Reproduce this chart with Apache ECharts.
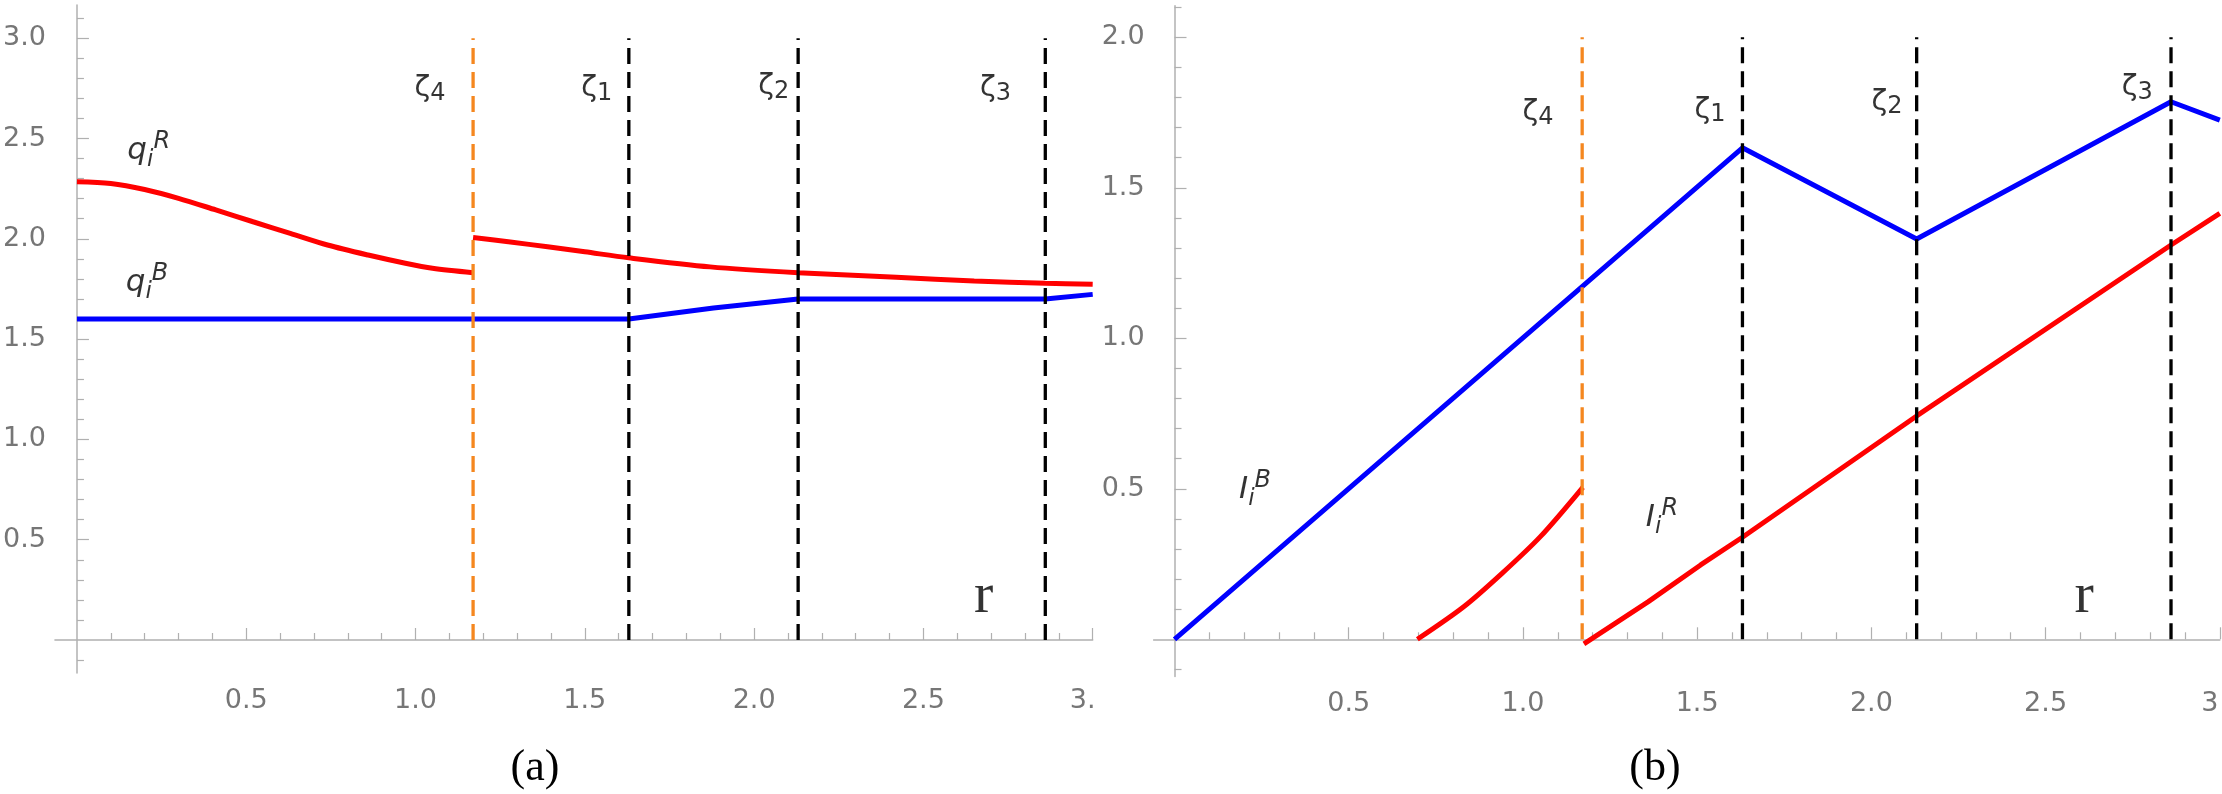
<!DOCTYPE html>
<html><head><meta charset="utf-8">
<script src="https://cdn.jsdelivr.net/npm/echarts@6/dist/echarts.min.js"></script>
<style>html,body{margin:0;padding:0;background:#fff}#c{width:2222px;height:794px}</style>
</head><body><div id="c"></div>
<script>
// ---------------- data ----------------
// vertical reference lines (r values)
const zetaBlack = [1.63, 2.13, 2.86];   // ζ1, ζ2, ζ3
const zeta4 = 1.17;                      // ζ4

// panel (a): q_i^R (two pieces) and q_i^B
const qR1_r = [0, 0.10, 0.20, 0.30, 0.41, 0.52, 0.63, 0.74, 0.86, 0.97, 1.05, 1.17];
const qR1_v = [2.285, 2.276, 2.246, 2.202, 2.144, 2.085, 2.027, 1.969, 1.919, 1.878, 1.853, 1.831];
const qR2_r = [1.17, 1.28, 1.39, 1.50, 1.63, 1.87, 2.13, 2.42, 2.65, 2.86, 3.0];
const qR2_v = [2.007, 1.984, 1.960, 1.935, 1.905, 1.860, 1.831, 1.808, 1.790, 1.778, 1.773];
const qB_r = [0, 1.63, 1.88, 2.13, 2.86, 3.0];
const qB_v = [1.6, 1.6, 1.655, 1.7, 1.7, 1.723];

// panel (b): I_i^B and I_i^R (two pieces)
const IB_r = [0, 1.63, 2.13, 2.86, 3.0];
const IB_v = [0, 1.633, 1.33, 1.786, 1.725];
const IR1_r = [0.697, 0.83, 0.94, 1.05, 1.172];
const IR1_v = [0, 0.108, 0.219, 0.341, 0.505];
const IR2_r = [1.175, 1.36, 1.51, 1.63, 2.13, 2.86, 3.0];
const IR2_v = [-0.015, 0.125, 0.247, 0.339, 0.742, 1.31, 1.415];

// tick labels
const xTickVals = [0.5, 1.0, 1.5, 2.0, 2.5, 3.0];
const yTickValsA = [0.5, 1.0, 1.5, 2.0, 2.5, 3.0];
const yTickValsB = [0.5, 1.0, 1.5, 2.0];

// annotation anchors (data units)
const zetaLabelA = [[1.043, 2.75], [1.535, 2.75], [2.058, 2.76], [2.713, 2.75]];
const zetaLabelB = [[1.043, 1.749], [1.537, 1.758], [2.045, 1.785], [2.763, 1.832]];
const zetaLabelSubs = ['4', '1', '2', '3'];
const qRLabel = [0.212, 2.44];
const qBLabel = [0.207, 1.78];
const IBLabel = [0.231, 0.496];
const IRLabel = [1.399, 0.403];
const rLabelA = [2.678, 0.214];
const rLabelB = [2.611, 0.140];

// ---------------- helpers ----------------
const zip = (a, b) => a.map((v, i) => [v, b[i]]);
function minorList(lo, hi) {
  const out = [];
  for (let k = Math.round(lo * 10); k <= Math.round(hi * 10); k++) {
    if (k % 5 !== 0) out.push(+(k / 10).toFixed(1));
  }
  return out;
}

const axisColor = '#b0b0b0';
const labelColor = '#767676';
const sans = 'DejaVu Sans';
const tickFont = 27;

const rich = {
  z:   {fontFamily: sans, fontSize: 29, lineHeight: 34, verticalAlign: 'middle', color: '#000'},
  zs:  {fontFamily: sans, fontSize: 24, lineHeight: 24, verticalAlign: 'bottom', color: '#000'},
  q:   {fontFamily: sans, fontStyle: 'italic', fontSize: 31, lineHeight: 42, verticalAlign: 'middle', color: '#000'},
  I:   {fontFamily: sans, fontStyle: 'italic', fontSize: 31, lineHeight: 42, verticalAlign: 'middle', color: '#000'},
  sub: {fontFamily: sans, fontStyle: 'italic', fontSize: 23, lineHeight: 22, verticalAlign: 'bottom', color: '#000'},
  sup: {fontFamily: sans, fontStyle: 'italic', fontSize: 24, lineHeight: 23, verticalAlign: 'top', color: '#000'},
  r:   {fontFamily: 'Liberation Serif', fontSize: 58, color: '#000'}
};

function xAxes(grid, min, yIdx, lastFmt) {
  const main = {
    type: 'value', gridIndex: grid, min: min, max: 3.0, position: 'bottom',
    axisLine: {show: true, onZero: true, onZeroAxisIndex: yIdx, lineStyle: {color: axisColor, width: 1.5}},
    axisTick: {show: true, inside: true, length: 12, customValues: xTickVals, lineStyle: {color: axisColor, width: 1.2}},
    axisLabel: {
      show: true, customValues: xTickVals, margin: 14, color: labelColor, fontFamily: sans, fontSize: tickFont,
      formatter: v => (Math.abs(v - 3) < 1e-9 ? lastFmt : v.toFixed(1)),
      rich: {c: {color: labelColor, fontFamily: sans, fontSize: tickFont, padding: [0, 20, 0, 0]}}
    },
    splitLine: {show: false}
  };
  const minor = {
    type: 'value', gridIndex: grid, min: min, max: 3.0, position: 'bottom',
    axisLine: {show: false, onZero: true, onZeroAxisIndex: yIdx},
    axisTick: {show: true, inside: true, length: 7, customValues: minorList(0.1, 2.9), lineStyle: {color: axisColor, width: 1.2}},
    axisLabel: {show: false},
    splitLine: {show: false}
  };
  return [main, minor];
}
function yAxes(grid, min, max, majors, minorHi, xIdx) {
  const main = {
    type: 'value', gridIndex: grid, min: min, max: max, position: 'left',
    axisLine: {show: true, onZero: true, onZeroAxisIndex: xIdx, lineStyle: {color: axisColor, width: 1.5}},
    axisTick: {show: true, inside: true, length: 12, customValues: majors, lineStyle: {color: axisColor, width: 1.2}},
    axisLabel: {show: true, customValues: majors, margin: 9, color: labelColor, fontFamily: sans, fontSize: tickFont,
      formatter: v => v.toFixed(1)},
    splitLine: {show: false}
  };
  const minor = {
    type: 'value', gridIndex: grid, min: min, max: max, position: 'left',
    axisLine: {show: false, onZero: true, onZeroAxisIndex: xIdx},
    axisTick: {show: true, inside: true, length: 7, customValues: minorList(-0.1, minorHi), lineStyle: {color: axisColor, width: 1.2}},
    axisLabel: {show: false},
    splitLine: {show: false}
  };
  return [main, minor];
}

function curve(data, color, xi, yi, smooth) {
  return {type: 'line', xAxisIndex: xi, yAxisIndex: yi, data: data, showSymbol: false, symbol: 'none',
    smooth: smooth ? 0.3 : false, silent: true,
    lineStyle: {color: color, width: 5}, z: 3};
}
function vline(r, top, color, xi, yi) {
  return {type: 'line', xAxisIndex: xi, yAxisIndex: yi, data: [[r, 0], [r, top]], showSymbol: false, symbol: 'none',
    silent: true, lineStyle: {color: color, width: 3.3, type: [16, 8]}, z: 4};
}
function labels(items, xi, yi) {
  return {type: 'scatter', xAxisIndex: xi, yAxisIndex: yi, symbolSize: 1, silent: true, z: 5,
    itemStyle: {color: 'rgba(0,0,0,0)'},
    data: items.map(it => ({value: it.p, label: {formatter: it.t}})),
    label: {show: true, position: 'inside', color: '#000', rich: rich}};
}

const zetaItems = (anchors) => anchors.map((p, i) => ({p: p, t: '{z|ζ}{zs|' + zetaLabelSubs[i] + '}'}));

const series = [
  // panel (a)
  curve(zip(qR1_r, qR1_v), '#ff0000', 0, 0, true),
  curve(zip(qR2_r, qR2_v), '#ff0000', 0, 0, true),
  curve(zip(qB_r, qB_v), '#0000ff', 0, 0, false),
  vline(zeta4, 3.0, '#f5871f', 0, 0),
  ...zetaBlack.map(z => vline(z, 3.0, '#000', 0, 0)),
  labels([
    ...zetaItems(zetaLabelA),
    {p: qRLabel, t: '{q|q}{sub|i}{sup|R}'},
    {p: qBLabel, t: '{q|q}{sub|i}{sup|B}'},
    {p: rLabelA, t: '{r|r}'}
  ], 0, 0),
  // panel (b)
  curve(zip(IB_r, IB_v), '#0000ff', 2, 2, false),
  curve(zip(IR1_r, IR1_v), '#ff0000', 2, 2, true),
  curve(zip(IR2_r, IR2_v), '#ff0000', 2, 2, false),
  vline(zeta4, 2.0, '#f5871f', 2, 2),
  ...zetaBlack.map(z => vline(z, 2.0, '#000', 2, 2)),
  labels([
    ...zetaItems(zetaLabelB),
    {p: IBLabel, t: '{I|I}{sub|i}{sup|B}'},
    {p: IRLabel, t: '{I|I}{sub|i}{sup|R}'},
    {p: rLabelB, t: '{r|r}'}
  ], 2, 2)
];

const chart = echarts.init(document.getElementById('c'), null, {renderer: 'canvas'});
chart.setOption({
  animation: false,
  backgroundColor: '#ffffff',
  grid: [
    {left: 34.4, top: 5.1, width: 1058.3, height: 668, containLabel: false},
    {left: 1153.6, top: 5.7, width: 1066.2, height: 670.9, containLabel: false}
  ],
  xAxis: [
    ...xAxes(0, -0.065, 0, '{c|3.}'),
    ...xAxes(1, -0.06, 2, '{c|3}')
  ],
  yAxis: [
    ...yAxes(0, -0.165, 3.165, yTickValsA, 3.1, 0),
    ...yAxes(1, -0.124, 2.105, yTickValsB, 2.1, 2)
  ],
  graphic: [
    {type: 'text', x: 535, y: 768, silent: true,
      style: {text: '(a)', fontFamily: 'Liberation Serif', fontSize: 44, fill: '#000', align: 'center', verticalAlign: 'middle'}},
    {type: 'text', x: 1655, y: 768, silent: true,
      style: {text: '(b)', fontFamily: 'Liberation Serif', fontSize: 44, fill: '#000', align: 'center', verticalAlign: 'middle'}}
  ],
  series: series
});
</script></body></html>
